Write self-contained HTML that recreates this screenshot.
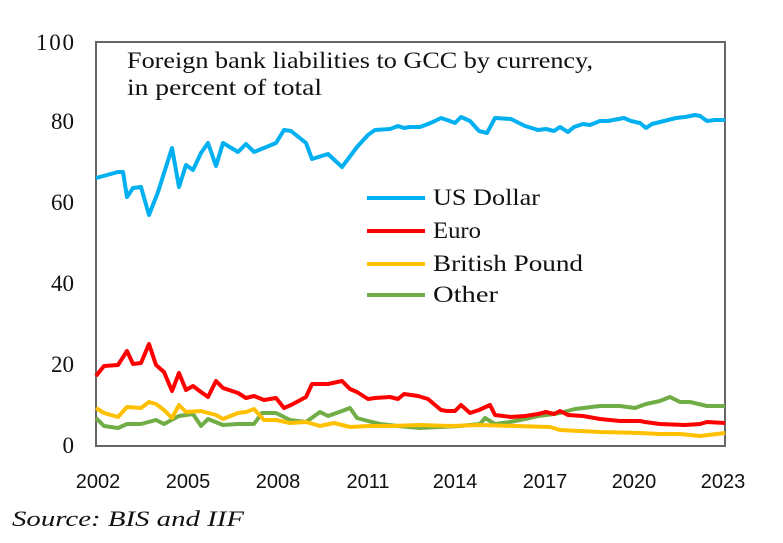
<!DOCTYPE html>
<html><head><style>
body{margin:0;background:#fff;width:783px;height:538px;overflow:hidden}
svg text{font-family:"Liberation Serif",serif;fill:#111}
</style></head><body>
<svg width="783" height="538" viewBox="0 0 783 538">
<rect x="96" y="42" width="629" height="404" fill="none" stroke="#666" stroke-width="2"/>
<g font-size="23" text-anchor="end">
<text x="74" y="50" textLength="38">100</text><text x="74" y="129">80</text><text x="74" y="210">60</text>
<text x="74" y="291">40</text><text x="74" y="372">20</text><text x="74" y="453">0</text>
</g>
<g font-size="20" text-anchor="middle">
<text x="98" y="488" style="font-family:'Liberation Sans',sans-serif">2002</text>
<text x="188" y="488" style="font-family:'Liberation Sans',sans-serif">2005</text>
<text x="278" y="488" style="font-family:'Liberation Sans',sans-serif">2008</text>
<text x="368" y="488" style="font-family:'Liberation Sans',sans-serif">2011</text>
<text x="455" y="488" style="font-family:'Liberation Sans',sans-serif">2014</text>
<text x="545" y="488" style="font-family:'Liberation Sans',sans-serif">2017</text>
<text x="634" y="488" style="font-family:'Liberation Sans',sans-serif">2020</text>
<text x="723" y="488" style="font-family:'Liberation Sans',sans-serif">2023</text>
</g>
<text x="127" y="68" font-size="23" textLength="466" lengthAdjust="spacingAndGlyphs">Foreign bank liabilities to GCC by currency,</text>
<text x="127" y="95" font-size="23" textLength="195" lengthAdjust="spacingAndGlyphs">in percent of total</text>
<text x="12" y="526" font-size="22" font-style="italic" textLength="232" lengthAdjust="spacingAndGlyphs">Source: BIS and IIF</text>
<g fill="none" stroke-width="4" stroke-linejoin="round">
<polyline stroke="#00B0F0" points="96,178 118,172 123,172 127,197 133,188 141,187 149,215 158,192 172,148 179,187 186,165 193,170 201,153 208,143 216,166 223,143 238,152 246,144 254,152 276,143 284,130 291,131 306,143 312,159 328,154 342,167 357,147 368,135 375,130 390,129 398,126 404,128 410,127 420,127 428,124 435,121 441,118 447,120 455,123 461,117 470,121 479,131 487,133 495,118 511,119 525,126 538,130 546,129 554,131 560,127 568,132 574,127 583,124 590,125 600,121 608,121 624,118 631,121 640,123 646,128 652,124 660,122 676,118 685,117 695,115 700,116 707,121 715,120 725,120"/>
<polyline stroke="#70AD47" points="96,418 104,426 118,428 127,424 141,424 156,420 164,424 179,416 193,414 201,426 208,419 223,425 238,424 254,424 262,413 276,413 290,420 306,422 320,412 328,416 342,411 350,408 357,418 368,421 380,424 398,426 420,428 440,427 460,426 480,424 485,418 495,424 510,422 525,419 538,416 554,414 560,413 575,409 600,406 620,406 635,408 646,404 660,401 670,397 680,402 690,402 707,406 725,406"/>
<polyline stroke="#FFC000" points="96,408 104,413 118,417 127,407 141,408 149,402 156,404 164,410 172,418 179,405 186,412 201,411 216,415 223,419 238,413 246,412 254,409 264,420 276,420 290,423 306,422 320,426 334,423 350,427 368,426 390,426 420,425 450,426 480,425 515,426 550,427 560,430 600,432 640,433 660,434 680,434 700,436 725,433"/>
<polyline stroke="#FF0000" points="96,376 104,366 118,365 127,351 133,364 141,363 149,344 156,365 164,372 172,391 179,373 186,390 193,386 201,392 208,397 216,381 223,388 238,393 246,398 254,396 264,400 276,398 284,408 291,405 306,397 312,384 328,384 342,381 350,389 357,392 368,399 375,398 390,397 398,399 404,394 418,396 428,399 441,410 447,411 455,411 461,405 470,413 479,410 490,405 495,415 511,417 525,416 538,414 546,412 554,414 560,411 568,415 583,416 600,419 620,421 640,421 645,422 660,424 685,425 700,424 707,422 725,423"/>
</g>
<g stroke-width="4">
<line x1="367" y1="198" x2="425" y2="198" stroke="#00B0F0"/>
<line x1="367" y1="231" x2="425" y2="231" stroke="#FF0000"/>
<line x1="367" y1="264" x2="425" y2="264" stroke="#FFC000"/>
<line x1="367" y1="295" x2="425" y2="295" stroke="#70AD47"/>
</g>
<g font-size="23">
<text x="433" y="205" textLength="107" lengthAdjust="spacingAndGlyphs">US Dollar</text>
<text x="433" y="238" textLength="48" lengthAdjust="spacingAndGlyphs">Euro</text>
<text x="433" y="271" textLength="150" lengthAdjust="spacingAndGlyphs">British Pound</text>
<text x="433" y="302" textLength="65" lengthAdjust="spacingAndGlyphs">Other</text>
</g>
</svg>
</body></html>
